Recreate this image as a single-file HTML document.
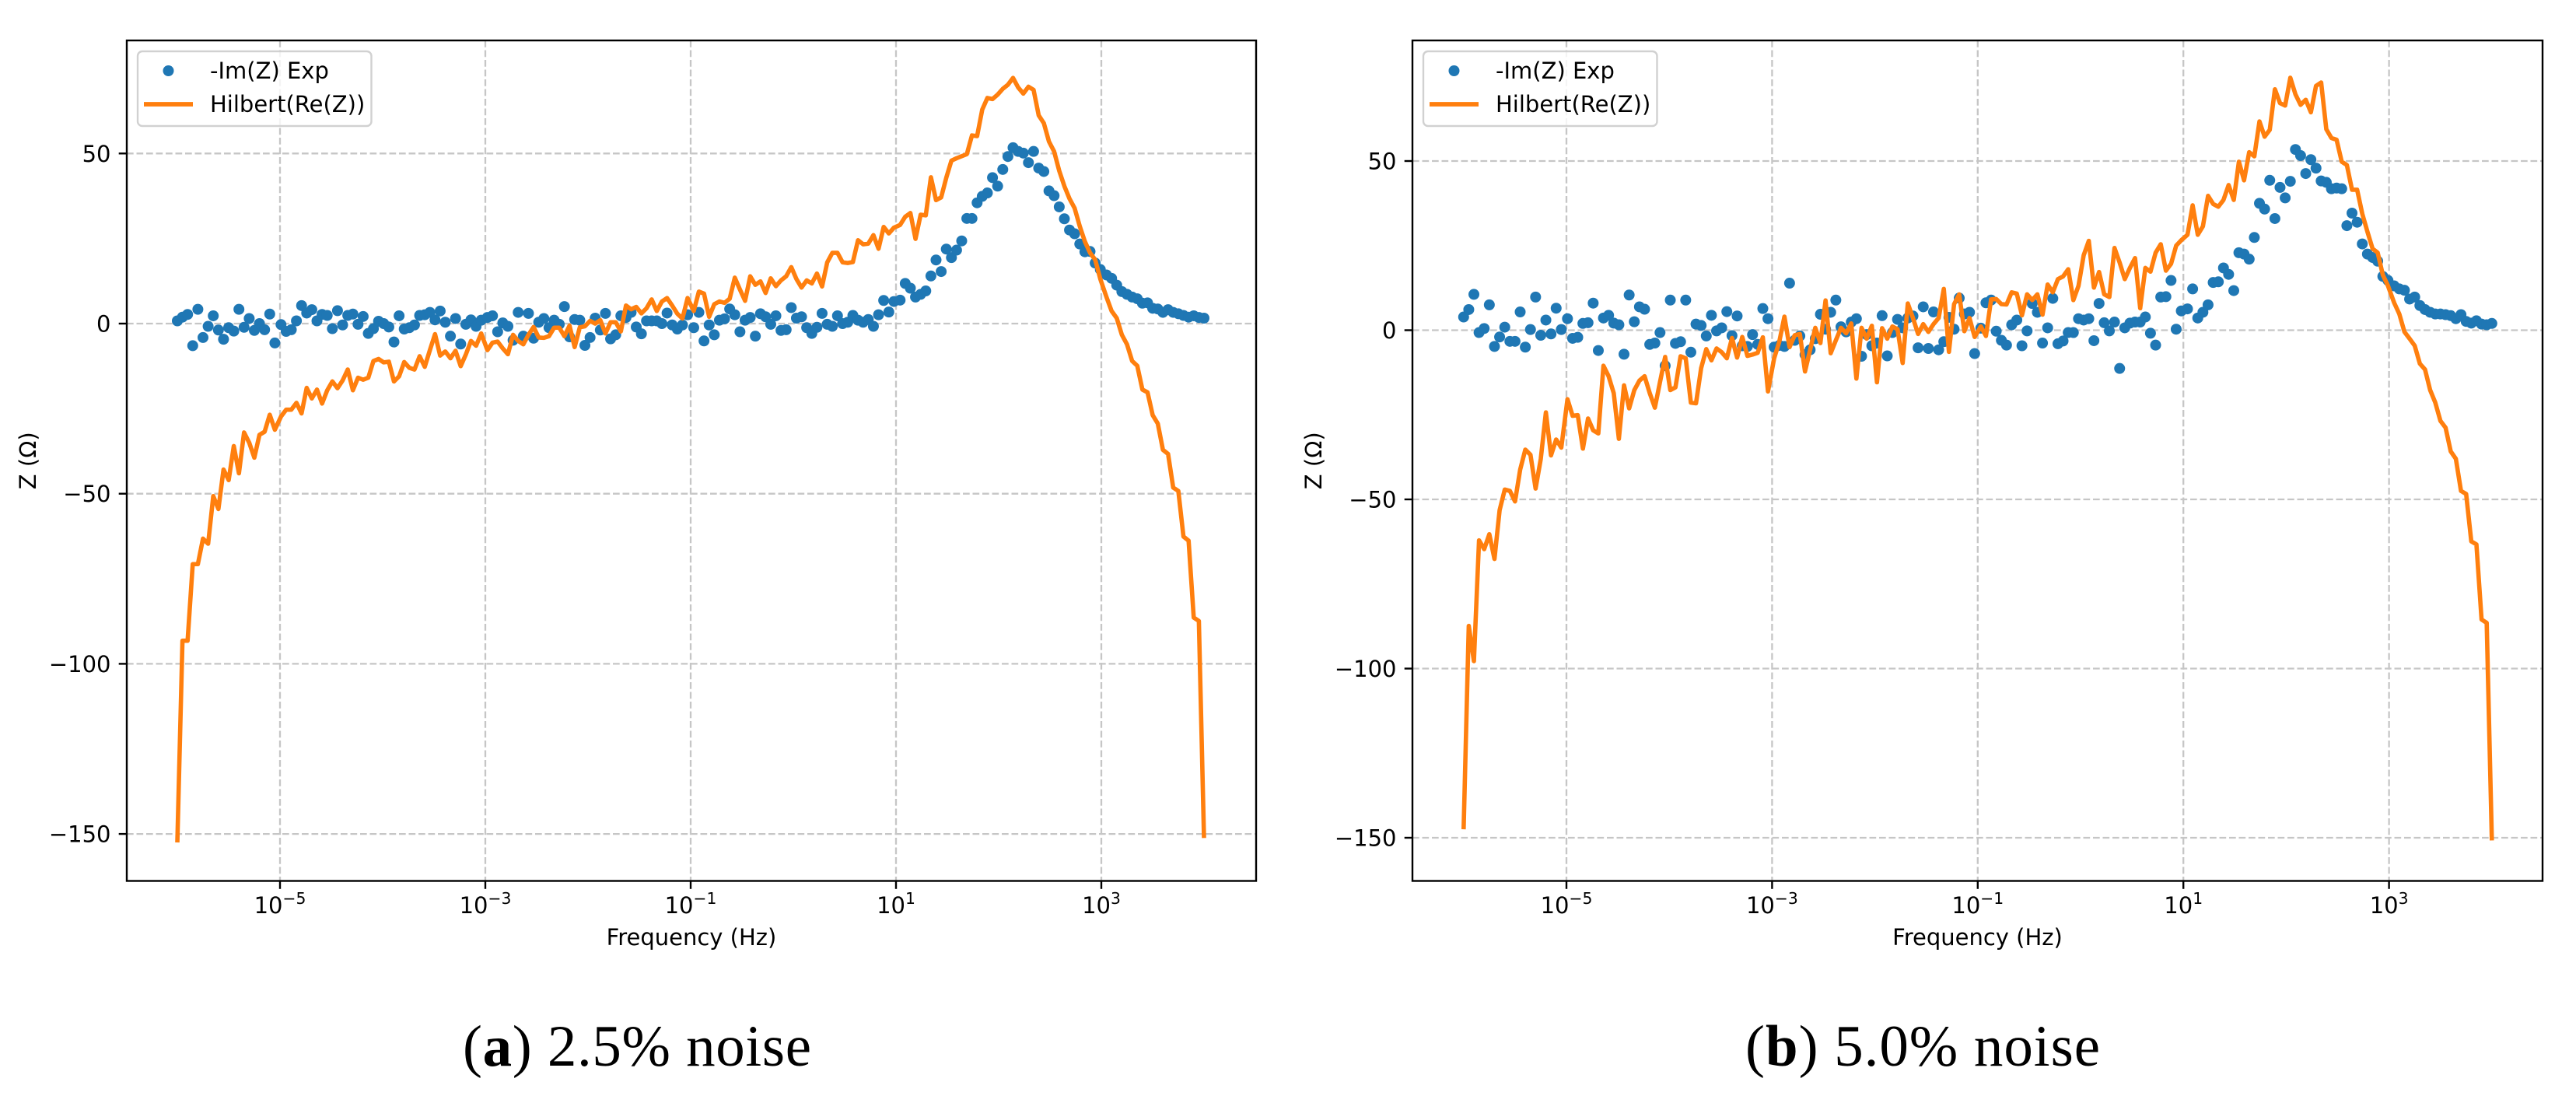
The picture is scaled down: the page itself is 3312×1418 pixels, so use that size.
<!DOCTYPE html>
<html lang="en">
<head>
<meta charset="utf-8">
<title>Hilbert transform validation at 2.5% and 5.0% noise</title>
<style>
  html, body { margin: 0; padding: 0; background: #ffffff; }
  body { width: 3312px; height: 1418px; overflow: hidden; }
  svg { display: block; }
  text { font-family: "DejaVu Sans", "Liberation Sans", sans-serif; fill: #000000; }
  .caption { font-family: "Liberation Serif", "DejaVu Serif", serif; font-size: 75px; }
</style>
</head>
<body>
<svg id="figure" xmlns="http://www.w3.org/2000/svg" width="3312" height="1418" viewBox="0 0 3312 1418">
  <rect x="0" y="0" width="3312" height="1418" fill="#ffffff"/>
  <text class="caption" x="595" y="1370" textLength="448" lengthAdjust="spacing">(<tspan font-weight="bold">a</tspan>) 2.5% noise</text>
  <text class="caption" x="2244" y="1370" textLength="456" lengthAdjust="spacing">(<tspan font-weight="bold">b</tspan>) 5.0% noise</text>
</svg>
<script>
const logFrequency = [
-6.00,-5.95,-5.90,-5.85,-5.80,-5.75,-5.70,-5.65,-5.60,-5.55,
-5.50,-5.45,-5.40,-5.35,-5.30,-5.25,-5.20,-5.15,-5.10,-5.05,
-4.99,-4.94,-4.89,-4.84,-4.79,-4.74,-4.69,-4.64,-4.59,-4.54,
-4.49,-4.44,-4.39,-4.34,-4.29,-4.24,-4.19,-4.14,-4.09,-4.04,
-3.99,-3.94,-3.89,-3.84,-3.79,-3.74,-3.69,-3.64,-3.59,-3.54,
-3.49,-3.44,-3.39,-3.34,-3.29,-3.24,-3.19,-3.14,-3.09,-3.04,
-2.98,-2.93,-2.88,-2.83,-2.78,-2.73,-2.68,-2.63,-2.58,-2.53,
-2.48,-2.43,-2.38,-2.33,-2.28,-2.23,-2.18,-2.13,-2.08,-2.03,
-1.98,-1.93,-1.88,-1.83,-1.78,-1.73,-1.68,-1.63,-1.58,-1.53,
-1.48,-1.43,-1.38,-1.33,-1.28,-1.23,-1.18,-1.13,-1.08,-1.03,
-0.97,-0.92,-0.87,-0.82,-0.77,-0.72,-0.67,-0.62,-0.57,-0.52,
-0.47,-0.42,-0.37,-0.32,-0.27,-0.22,-0.17,-0.12,-0.07,-0.02,
0.03,0.08,0.13,0.18,0.23,0.28,0.33,0.38,0.43,0.48,
0.53,0.58,0.63,0.68,0.73,0.78,0.83,0.88,0.93,0.98,
1.04,1.09,1.14,1.19,1.24,1.29,1.34,1.39,1.44,1.49,
1.54,1.59,1.64,1.69,1.74,1.79,1.84,1.89,1.94,1.99,
2.04,2.09,2.14,2.19,2.24,2.29,2.34,2.39,2.44,2.49,
2.54,2.59,2.64,2.69,2.74,2.79,2.84,2.89,2.94,2.99,
3.05,3.10,3.15,3.20,3.25,3.30,3.35,3.40,3.45,3.50,
3.55,3.60,3.65,3.70,3.75,3.80,3.85,3.90,3.95,4.00];

const imagNoise25 = [
0.8,1.9,2.7,-6.5,4.2,-4.1,-0.8,2.3,-1.9,-4.6,
-1.2,-2.2,4.2,-1.1,1.5,-2.0,0,-1.8,2.8,-5.7,
-0.3,-2.3,-1.8,0.8,5.3,3.1,4.1,0.8,2.7,2.4,
-1.5,3.8,-0.4,2.4,2.8,-0.2,2.1,-2.9,-1.5,0.7,
0,-1.0,-5.4,2.3,-1.6,-1.2,-0.4,2.4,2.6,3.3,
1.1,3.7,0.4,-3.7,1.5,-6.0,-0.2,1.1,-0.8,1.0,
1.8,2.3,-2.4,0.2,-0.8,-4.9,3.3,-3.7,3.0,-4.3,
0.4,1.5,-1.2,1.0,-0.2,5.0,-3.9,1.2,1.0,-6.4,
-4.1,1.6,-1.9,3.0,-4.5,-3.3,2.3,1.8,3.3,-1.0,
-3.0,0.8,0.8,0.8,0,3.1,-0.4,-1.6,-0.4,2.6,
-1.2,3.3,-5.1,-0.4,-3.3,1.0,1.4,4.3,2.6,-2.4,
1.0,1.8,-3.7,2.9,2.0,-0.2,2.3,-2.0,-1.8,4.7,
1.6,2.0,-1.2,-2.9,-1.1,3.0,-0.2,-0.8,2.3,0,
0.4,2.4,1.0,0.4,1.2,-0.8,2.6,6.8,3.4,6.5,
6.9,11.8,10.4,7.8,8.6,9.6,14.0,18.7,15.3,21.9,
19.4,21.6,24.3,30.9,30.9,35.5,37.4,38.4,42.9,40.4,
45.3,49.1,51.7,50.6,50.1,47.3,50.6,45.7,44.7,39.0,
37.6,34.3,30.8,27.5,26.4,23.4,21.1,21.2,17.8,15.9,
14.3,13.3,11.3,9.4,8.6,7.8,7.3,6.0,6.1,4.5,
4.3,3.3,4.1,3.3,2.9,2.4,1.9,2.3,1.8,1.6];

const hilbertNoise25 = [
-152.5,-93.2,-93.2,-70.7,-70.7,-63.2,-64.7,-50.7,-54.5,-42.9,
-46,-36,-44,-32,-35,-39.4,-32.7,-31.8,-26.8,-31.2,
-27.3,-25.3,-25.3,-23.3,-26.4,-18.9,-22,-19.4,-23.5,-19.6,
-17,-19,-16.7,-13.5,-19.6,-15.9,-16.5,-15.9,-11,-10.4,
-11.4,-11.2,-17,-15.5,-11.3,-13,-13.5,-9.6,-12.7,-7.8,
-3.1,-9.4,-8.2,-10.2,-8,-12.5,-9.1,-5.1,-6.5,-2.9,
-7.8,-5.6,-5.3,-7.3,-9,-3.3,-5.1,-6.1,-3.3,-1,
-4.1,-4.2,-3.7,-1.2,-1.2,-3.7,-0.6,-6.9,-1.1,-0.8,
0.8,0,1,-2.9,0.4,0.4,-2.3,5.3,4.2,4.9,
3,4.5,7.1,3.7,6.5,7.5,5.3,2.9,1.5,7.5,
3.7,9.4,8.8,2,5.7,6.5,6.1,7.3,13.5,10,
6.7,13.9,11.4,12.4,9,13.3,11,12.7,13.9,16.6,
13.1,10.6,12.7,11.8,14.7,10.9,18,20.8,20.8,18,
17.8,18.1,24.5,23.3,23.5,26,22,28.4,26.5,28.2,
29,31.4,32.5,24.9,32,31.8,43,36.3,37.1,42.9,
47.9,48.6,49.2,49.8,55.3,55.1,62.9,66.3,66,67.3,
69,70.2,72.2,69.4,67.6,69.6,68.7,61.2,58.9,53.5,
50.6,44.9,40.4,36.7,33.9,28.6,24.1,20.8,18.8,13.1,
7.8,3.7,1.6,-3.3,-6.1,-11,-12.4,-19.4,-20.2,-26.9,
-29.4,-37.1,-38.3,-48.2,-49.2,-62.6,-63.8,-86.4,-87.4,-151.2];

const imagNoise50 = [
3.9,6.1,10.6,-0.7,0.5,7.5,-4.8,-2,0.9,-3.3,
-3.3,5.4,-5,0.2,9.8,-1.5,3,-1.1,6.5,0.2,
3.4,-2.4,-2.1,2,2.2,8,-6,3.6,4.4,2.1,
1.6,-7.1,10.4,2.5,6.9,6.2,-4.2,-3.8,-0.7,-10.5,
8.9,-3.9,-3.4,8.9,-6.5,1.8,1.4,-1.7,4.4,-0.2,
0.7,5.5,-1.6,4.2,-4.6,-4.8,-1.3,-4.2,6.4,3.4,
-5,-4.5,-4.8,13.9,-3,-1.7,-7.2,-5.8,-2.5,4.7,
0.3,5.3,8.9,1,-0.5,2.4,3.4,-7.7,-1.3,-4.6,
-3.8,4.3,-7.6,-0.7,3.2,0.7,3.6,4.2,-5.2,6.9,
-5.4,5.4,-5.8,-3.4,3.8,0.3,9.5,4.8,5.3,-6.9,
0.6,8.1,8.9,-0.3,-3,-4.4,1.6,3,-4.6,-0.2,
7.9,5.3,-3.8,0.7,9.4,-4,-3.2,-0.7,-0.7,3.4,
3,3.4,-3.1,7.9,2.2,-0.2,2.4,-11.3,0.7,2.1,
2.4,2.4,3.9,-0.9,-4.4,9.8,9.9,14.7,0.3,5.7,
6.3,12.2,3.6,5.3,7.5,14.1,14.3,18.4,16.5,11.7,
22.9,22.5,21,27.4,37.5,35.8,44.3,33,42.2,39.1,
44,53.4,51.6,46.3,50.4,47.9,44.1,43.7,41.8,42,
41.8,30.9,34.6,31.9,25.5,22.5,21.5,20.4,15.9,14.7,
13.1,12.2,11.8,9.2,9.8,7.3,6.1,5.3,4.8,4.8,
4.6,4.3,3.4,4.6,2.6,2.1,2.8,1.8,1.6,2];

const hilbertNoise50 = [
-147.5,-87.4,-97.8,-62.1,-64.7,-60.3,-67.6,-53.2,-47.1,-47.5,
-50.6,-41.2,-35.3,-36.8,-46.8,-38.1,-24.3,-37,-32.3,-34.7,
-20.4,-25.3,-25.1,-35,-26.1,-29.6,-30.5,-10.5,-13.6,-18.6,
-32.1,-16.3,-23.1,-17.7,-14.9,-13.6,-18.6,-22.9,-15.3,-7.9,
-17.7,-16.9,-7.7,-8.3,-21.4,-21.6,-11.2,-5.6,-8.9,-5.4,
-6.5,-8.3,-2.3,-8.1,-2,-7.6,-7.2,-6.7,-2.1,-18.1,
-8.3,-3.4,4,-5,-1.5,-1.1,-12.2,-5.8,0.7,-3.8,
8.8,-6.8,-3,0.7,-0.9,2,-14.3,0.7,-2.5,1.3,
-15.4,0.6,-2.5,1.1,0.3,-9.7,7.9,3.6,-1.1,1.8,
-0.5,1.8,3.6,12.2,-6.4,7.7,10.6,-0.3,3.6,-2,
1.1,-1.7,9.1,9.2,7.7,7.6,11.2,10.8,4.4,10.6,
8.9,10.6,4.6,13.5,11.2,15.1,15.9,18,8.9,13.1,
22.1,26.4,12.6,17.2,10.6,9.8,24.3,20,15.1,18.4,
21.3,6.5,18.4,17.3,22.9,25.4,17.6,19.6,25,26.6,
28.2,36.9,28.2,30.7,39.7,37.3,36.5,38.5,42.9,38.5,
49.8,44.3,52.6,51.4,61.7,57.2,59.2,71.2,67.1,66.4,
74.6,69.7,66.6,68.1,64.4,72.2,73.2,59.4,56.8,56.3,
49.8,48.8,41.5,41.5,34.4,29.1,24.1,22.9,16.3,13.1,
8.1,4.8,-0.5,-2.5,-4.6,-9.9,-11.6,-17.7,-21.4,-26.8,
-28.8,-35.8,-38,-47.5,-48.4,-62.4,-63.3,-85.5,-86.5,-150.8];

const xTickExponents = [-5, -3, -1, 1, 3];
const yTickValues = [50, 0, -50, -100, -150];
const legendLabels = ['-Im(Z) Exp', 'Hilbert(Re(Z))'];
const xAxisTitle = 'Frequency (Hz)';
const yAxisTitle = 'Z (Ω)';

const SVG_NS = 'http://www.w3.org/2000/svg';
const BLUE = '#1f77b4';
const ORANGE = '#ff7f0e';
const FONT_PX = 29;

function svgEl(tag, parent, attrs) {
  const el = document.createElementNS(SVG_NS, tag);
  for (const k in attrs) el.setAttribute(k, attrs[k]);
  parent.appendChild(el);
  return el;
}

function tickText(v) {
  return (v < 0 ? '\u2212' : '') + Math.abs(v);
}

function drawPanel(root, id, box, imagValues, hilbertValues) {
  const xScale = function (logF) { return box.x10m5 + (logF + 5) * box.decade; };
  const yScale = function (v) { return box.y0 - v * box.unit; };

  const g = svgEl('g', root, {});
  
  

  const grid = svgEl('g', g, {});
  
  
  const gridStyle = { stroke: '#c6c6c6', 'stroke-width': 2.3, 'stroke-dasharray': '8.7 3.8', fill: 'none' };

  xTickExponents.forEach(function (e) {
    const line = svgEl('line', grid, Object.assign({ x1: xScale(e), x2: xScale(e), y1: box.top, y2: box.bottom }, gridStyle));
    
    
  });
  yTickValues.forEach(function (v) {
    const line = svgEl('line', grid, Object.assign({ x1: box.left, x2: box.right, y1: yScale(v), y2: yScale(v) }, gridStyle));
    
    
  });

  const scatter = svgEl('g', g, { fill: BLUE });
  
  
  imagValues.forEach(function (v, i) {
    const dot = svgEl('circle', scatter, { cx: xScale(logFrequency[i]), cy: yScale(v), r: 7 });
    
    
  });

  const points = hilbertValues.map(function (v, i) {
    return xScale(logFrequency[i]).toFixed(2) + ',' + yScale(v).toFixed(2);
  }).join(' ');
  const curve = svgEl('polyline', g, {
    points: points, fill: 'none', stroke: ORANGE, 'stroke-width': 5.6,
    'stroke-linejoin': 'round', 'stroke-linecap': 'butt'
  });
  
  

  const frame = svgEl('rect', g, {
    x: box.left, y: box.top, width: box.right - box.left, height: box.bottom - box.top,
    fill: 'none', stroke: '#000', 'stroke-width': 2.4
  });
  
  

  xTickExponents.forEach(function (e) {
    const mark = svgEl('line', g, { x1: xScale(e), x2: xScale(e), y1: box.bottom, y2: box.bottom + 10.3, stroke: '#000', 'stroke-width': 2.4 });
    
    
    const label = svgEl('text', g, { x: xScale(e), y: 1174, 'text-anchor': 'middle', 'font-size': FONT_PX });
    
    
    const base = svgEl('tspan', label, {});
    base.textContent = '10';
    const sup = svgEl('tspan', label, { dy: -12, 'font-size': FONT_PX * 0.7 });
    sup.textContent = tickText(e);
  });

  yTickValues.forEach(function (v) {
    const mark = svgEl('line', g, { x1: box.left - 10.3, x2: box.left, y1: yScale(v), y2: yScale(v), stroke: '#000', 'stroke-width': 2.4 });
    
    
    const label = svgEl('text', g, { x: box.left - 20.5, y: yScale(v) + 10.5, 'text-anchor': 'end', 'font-size': FONT_PX });
    
    
    label.textContent = tickText(v);
  });

  const xTitle = svgEl('text', g, { x: (box.left + box.right) / 2, y: 1215, 'text-anchor': 'middle', 'font-size': FONT_PX });
  
  
  xTitle.textContent = xAxisTitle;

  const yTitleX = box.left - 117;
  const yTitleY = (box.top + box.bottom) / 2;
  const yTitle = svgEl('text', g, { x: yTitleX, y: yTitleY, 'text-anchor': 'middle', 'font-size': FONT_PX, transform: 'rotate(-90 ' + yTitleX + ' ' + yTitleY + ')' });
  
  
  yTitle.textContent = yAxisTitle;

  const legend = svgEl('g', g, {});
  
  
  const lx = box.left + 14;
  const legendBox = svgEl('rect', legend, { x: lx, y: 66, width: 300.5, height: 96, rx: 6, ry: 6, fill: '#ffffff', 'fill-opacity': 0.8, stroke: '#cccccc', 'stroke-opacity': 0.9, 'stroke-width': 2.4 });
  
  
  const legendDot = svgEl('circle', legend, { cx: lx + 39.5, cy: 91, r: 7, fill: BLUE });
  
  
  const legendLine = svgEl('line', legend, { x1: lx + 8, x2: lx + 71, y1: 134, y2: 134, stroke: ORANGE, 'stroke-width': 5.8 });
  
  
  const legendText1 = svgEl('text', legend, { x: lx + 93, y: 101, 'font-size': FONT_PX });
  
  
  legendText1.textContent = legendLabels[0];
  const legendText2 = svgEl('text', legend, { x: lx + 93, y: 144, 'font-size': FONT_PX });
  
  
  legendText2.textContent = legendLabels[1];
}

const figure = document.getElementById('figure');
drawPanel(figure, 'a',
  { left: 163, right: 1615, top: 52, bottom: 1132.5, x10m5: 360, decade: 132.0, y0: 416, unit: 4.374 },
  imagNoise25, hilbertNoise25);
drawPanel(figure, 'b',
  { left: 1816, right: 3269, top: 52, bottom: 1132.5, x10m5: 2014, decade: 132.2, y0: 424.5, unit: 4.35 },
  imagNoise50, hilbertNoise50);
</script>
</body>
</html>
